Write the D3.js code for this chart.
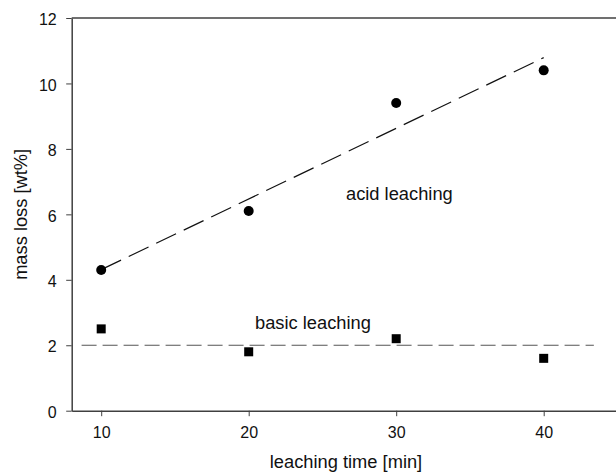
<!DOCTYPE html>
<html><head><meta charset="utf-8">
<script src="https://cdn.jsdelivr.net/npm/d3@7"></script>
<style>body{margin:0;background:#fff;} text{font-family:"Liberation Sans",Arial,sans-serif;}</style>
</head><body><svg id="c" width="616" height="475"></svg>
<script>
const times = [10, 20, 30, 40];
const acidLoss = [4.3, 6.1, 9.4, 10.4];
const basicLoss = [2.5, 1.8, 2.2, 1.6];
const acidFitX = [10, 40];
const acidFitY = [4.31, 10.79];
const basicFitX = [8.67, 43.4];
const basicFitY = [2.0, 2.0];
const xTicks = [10, 20, 30, 40];
const yTicks = [0, 2, 4, 6, 8, 10, 12];

const svg = d3.select("#c");
const padLeft = 71.7, padTop = 18, padBottom = 410.7;
const x = d3.scaleLinear().domain([8, 45]).range([padLeft, padLeft + 37 * 14.75]);
const y = d3.scaleLinear().domain([0, 12]).range([padBottom, padTop]);
const axisColor = "#404040";

// top border
svg.append("line").attr("x1", padLeft).attr("x2", 616).attr("y1", y(12)).attr("y2", y(12))
  .attr("stroke", axisColor).attr("stroke-width", 1.5);

const xa = svg.append("g").attr("transform", `translate(0,${padBottom})`)
  .call(d3.axisBottom(x).tickValues(xTicks).tickSize(5.5).tickPadding(10).tickSizeOuter(0));
const ya = svg.append("g").attr("transform", `translate(${padLeft},0)`)
  .call(d3.axisLeft(y).tickValues(yTicks).tickSize(5.5).tickPadding(9.5).tickSizeOuter(0));
[xa, ya].forEach(g => {
  g.select(".domain").attr("stroke", axisColor).attr("stroke-width", 1.5);
  g.selectAll(".tick line").attr("stroke", axisColor).attr("stroke-width", 1);
  g.selectAll(".tick text").attr("font-size", 16).attr("fill", "#111")
    .style("font-family", '"Liberation Sans",Arial,sans-serif');
});
ya.selectAll(".tick text").attr("dy", "0.42em");

const line = d3.line().x(d => x(d[0])).y(d => y(d[1]));
svg.append("path").datum(d3.zip(acidFitX, acidFitY)).attr("d", line)
  .attr("fill", "none").attr("stroke", "#111").attr("stroke-width", 1.2)
  .attr("stroke-dasharray", "22,8.5");
svg.append("path").datum(d3.zip(basicFitX, basicFitY)).attr("d", line)
  .attr("fill", "none").attr("stroke", "#555").attr("stroke-width", 1.2)
  .attr("stroke-dasharray", "15,6");

svg.selectAll("circle.acid").data(d3.zip(times, acidLoss)).join("circle")
  .attr("class", "acid").attr("cx", d => x(d[0])).attr("cy", d => y(d[1])).attr("r", 5).attr("fill", "#000");
svg.selectAll("rect.basic").data(d3.zip(times, basicLoss)).join("rect")
  .attr("class", "basic").attr("x", d => x(d[0]) - 4.5).attr("y", d => y(d[1]) - 4.5)
  .attr("width", 9).attr("height", 9).attr("fill", "#000");

svg.append("text").attr("x", 346).attr("y", 200).attr("font-size", 18.3).attr("fill", "#111").text("acid leaching");
svg.append("text").attr("x", 255).attr("y", 329).attr("font-size", 18.3).attr("fill", "#111").text("basic leaching");
svg.append("text").attr("x", 346).attr("y", 468).attr("text-anchor", "middle").attr("font-size", 18.3).attr("fill", "#111").text("leaching time [min]");
svg.append("text").attr("transform", `translate(27,${(padTop + padBottom) / 2}) rotate(-90)`)
  .attr("text-anchor", "middle").attr("font-size", 18.3).attr("fill", "#111").text("mass loss [wt%]");
</script></body></html>
